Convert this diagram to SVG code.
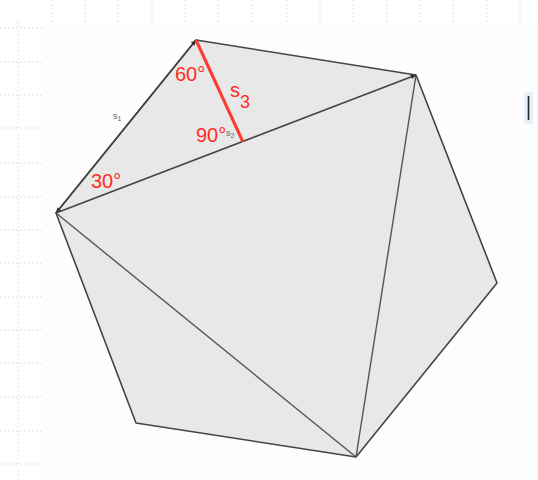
<svg xmlns="http://www.w3.org/2000/svg" width="538" height="480" viewBox="0 0 538 480">
<style>
.grid{stroke:#cfcfcf;stroke-width:0.8;stroke-dasharray:1.5 2.5;fill:none}
.edge{stroke:#444;stroke-width:1.6;fill:none;stroke-linejoin:round}
.diag{stroke:#555;stroke-width:1.4;fill:none}
.red{fill:#ff2d20;font-family:"Liberation Sans",Arial,sans-serif;font-size:20px}
.small{fill:#666;font-family:"Liberation Sans",Arial,sans-serif;font-size:9px}
</style>
<defs>
<marker id="ah" viewBox="0 0 10 10" refX="9" refY="5" markerWidth="6" markerHeight="6" orient="auto-start-reverse" markerUnits="userSpaceOnUse">
<path d="M0,1 L10,5 L0,9 z" fill="#333"/>
</marker>
</defs>
<rect width="538" height="480" fill="#fff"/>
<g id="grid">
<path class="grid" d="M52,0V22M85,0V22M118,0V22M152,0V22M185,0V22M218,0V22M252,0V22M287,0V22M320,0V22M353,0V22M387,0V22M420,0V22M453,0V22M487,0V22M520,0V22"/>
<path class="grid" d="M18,22V480M0,28H43M0,62H43M0,95H43M0,128H43M0,163H43M0,197H43M0,230H43M0,263H43M0,297H43M0,330H43M0,363H43M0,397H43M0,431H43M0,464H43"/>
</g>
<rect x="43" y="22" width="495" height="458" fill="#fdfdfd"/>
<g id="cursor">
<rect x="524" y="92" width="9" height="32" rx="2" fill="#e6eef8"/>
<line x1="528.5" y1="96" x2="528.5" y2="120" stroke="#222" stroke-width="1.6"/>
</g>
<g id="polygon">
<polygon class="edge" points="196,40 416,75 497,283 356,457 136,423 56,213" style="fill:#e8e8e8"/>
</g>
<g id="connectors">
<line class="diag" x1="416" y1="75" x2="356" y2="457"/>
<line class="diag" x1="56" y1="213" x2="356" y2="457"/>
<line class="edge" x1="56" y1="213" x2="196" y2="40" marker-start="url(#ah)" marker-end="url(#ah)"/>
<line class="edge" x1="56" y1="213" x2="416" y2="75" marker-end="url(#ah)"/>
<line x1="196" y1="40" x2="243" y2="142" stroke="#ff3b30" stroke-width="3"/>
</g>
<g id="labels">
<text class="small" x="113" y="119">s<tspan font-size="7" dy="2">1</tspan></text>
<text class="small" x="226" y="136">s<tspan font-size="7" dy="2">2</tspan></text>
<text class="red" x="175" y="81">60°</text>
<text class="red" x="230" y="97">s<tspan font-size="18" dy="11">3</tspan></text>
<text class="red" x="196" y="142">90°</text>
<text class="red" x="91" y="188">30°</text>
</g>
</svg>
